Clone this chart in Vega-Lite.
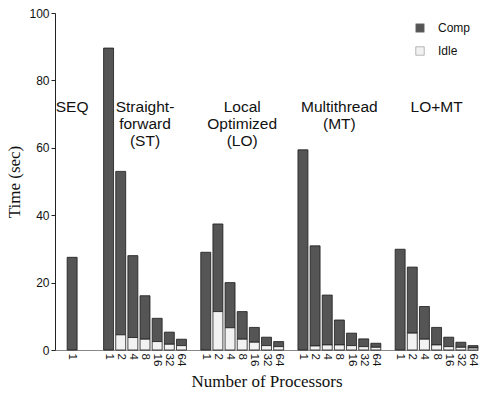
{
  "$schema": "https://vega.github.io/schema/vega-lite/v6.json",
  "width": 423,
  "height": 337,
  "autosize": {"type": "none"},
  "padding": {"left": 55, "top": 13, "right": 3, "bottom": 45},
  "background": "white",
  "config": {
    "view": {"stroke": null},
    "axis": {"grid": false, "labelFont": "Liberation Sans", "titleFont": "Liberation Serif", "labelColor": "#111", "titleColor": "#111", "titleFontWeight": "normal"},
    "legend": {"labelFont": "Liberation Sans", "labelFontSize": 12, "labelColor": "#111"}
  },
  "layer": [
    {
      "data": {
        "values": [
          {"slot": "SEQ-1", "Comp": 27.5, "Idle": 0},
          {"slot": "ST-1", "Comp": 89.6, "Idle": 0},
          {"slot": "ST-2", "Comp": 48.5, "Idle": 4.5},
          {"slot": "ST-4", "Comp": 24.3, "Idle": 3.7},
          {"slot": "ST-8", "Comp": 12.9, "Idle": 3.2},
          {"slot": "ST-16", "Comp": 6.9, "Idle": 2.5},
          {"slot": "ST-32", "Comp": 3.6, "Idle": 1.7},
          {"slot": "ST-64", "Comp": 1.9, "Idle": 1.3},
          {"slot": "LO-1", "Comp": 29.0, "Idle": 0},
          {"slot": "LO-2", "Comp": 26.0, "Idle": 11.4},
          {"slot": "LO-4", "Comp": 13.4, "Idle": 6.6},
          {"slot": "LO-8", "Comp": 8.2, "Idle": 3.2},
          {"slot": "LO-16", "Comp": 4.4, "Idle": 2.3},
          {"slot": "LO-32", "Comp": 2.5, "Idle": 1.3},
          {"slot": "LO-64", "Comp": 1.5, "Idle": 1.0},
          {"slot": "MT-1", "Comp": 59.4, "Idle": 0},
          {"slot": "MT-2", "Comp": 29.7, "Idle": 1.2},
          {"slot": "MT-4", "Comp": 14.8, "Idle": 1.5},
          {"slot": "MT-8", "Comp": 7.4, "Idle": 1.5},
          {"slot": "MT-16", "Comp": 3.7, "Idle": 1.3},
          {"slot": "MT-32", "Comp": 2.3, "Idle": 1.0},
          {"slot": "MT-64", "Comp": 1.2, "Idle": 0.8},
          {"slot": "LOMT-1", "Comp": 29.9, "Idle": 0},
          {"slot": "LOMT-2", "Comp": 19.6, "Idle": 5.0},
          {"slot": "LOMT-4", "Comp": 9.7, "Idle": 3.2},
          {"slot": "LOMT-8", "Comp": 5.2, "Idle": 1.5},
          {"slot": "LOMT-16", "Comp": 2.8, "Idle": 1.0},
          {"slot": "LOMT-32", "Comp": 1.5, "Idle": 0.8},
          {"slot": "LOMT-64", "Comp": 0.7, "Idle": 0.6}
        ]
      },
      "transform": [
        {"fold": ["Comp", "Idle"], "as": ["kind", "time"]},
        {"filter": "datum.time > 0"}
      ],
      "mark": {"type": "bar", "stroke": "#1a1a1a", "strokeWidth": 0.8},
      "encoding": {
        "x": {
          "field": "slot", "type": "nominal",
          "scale": {
            "domain": ["g0", "SEQ-1", "g1", "g2",
              "ST-1", "ST-2", "ST-4", "ST-8", "ST-16", "ST-32", "ST-64", "g3",
              "LO-1", "LO-2", "LO-4", "LO-8", "LO-16", "LO-32", "LO-64", "g4",
              "MT-1", "MT-2", "MT-4", "MT-8", "MT-16", "MT-32", "MT-64", "g5",
              "LOMT-1", "LOMT-2", "LOMT-4", "LOMT-8", "LOMT-16", "LOMT-32", "LOMT-64"],
            "paddingInner": 0.18, "paddingOuter": 0
          },
          "axis": {
            "title": "Number of Processors",
            "titleFontSize": 17,
            "titlePadding": 8,
            "labelAngle": 90,
            "labelFontSize": 11.5,
            "labelPadding": 3,
            "ticks": false,
            "domainColor": "#888",
            "labelExpr": "indexof(datum.value, '-') >= 0 ? split(datum.value, '-')[1] : ''"
          }
        },
        "y": {
          "field": "time", "type": "quantitative", "stack": "zero",
          "scale": {"domain": [0, 100]},
          "axis": {
            "title": "Time (sec)",
            "titleFontSize": 17,
            "titlePadding": 5,
            "values": [0, 20, 40, 60, 80, 100],
            "labelFontSize": 12,
            "tickSize": 4,
            "labelPadding": 2,
            "domainColor": "#222",
            "tickColor": "#222"
          }
        },
        "color": {
          "field": "kind", "type": "nominal",
          "scale": {"domain": ["Comp", "Idle"], "range": ["#555555", "#f2f2f2"]},
          "legend": {
            "title": null,
            "orient": "none",
            "legendX": 359,
            "legendY": 9,
            "symbolType": "square",
            "symbolSize": 72,
            "symbolStrokeColor": "#777",
            "symbolStrokeWidth": 0.5,
            "labelOffset": 12,
            "rowPadding": 11
          }
        },
        "order": {"field": "kind", "sort": "descending"}
      }
    },
    {
      "data": {
        "values": [
          {"slot": "SEQ-1", "label": "SEQ"},
          {"slot": "ST-8", "label": "Straight-\nforward\n(ST)"},
          {"slot": "LO-8", "label": "Local\nOptimized\n(LO)"},
          {"slot": "MT-8", "label": "Multithread\n(MT)"},
          {"slot": "LOMT-8", "label": "LO+MT"}
        ]
      },
      "mark": {"type": "text", "font": "Liberation Sans", "fontSize": 15.5, "lineHeight": 17, "lineBreak": "\n", "align": "center", "baseline": "alphabetic", "color": "#111"},
      "encoding": {
        "x": {"field": "slot", "type": "nominal"},
        "y": {"datum": 70.6, "type": "quantitative"},
        "text": {"field": "label"}
      }
    }
  ]
}
